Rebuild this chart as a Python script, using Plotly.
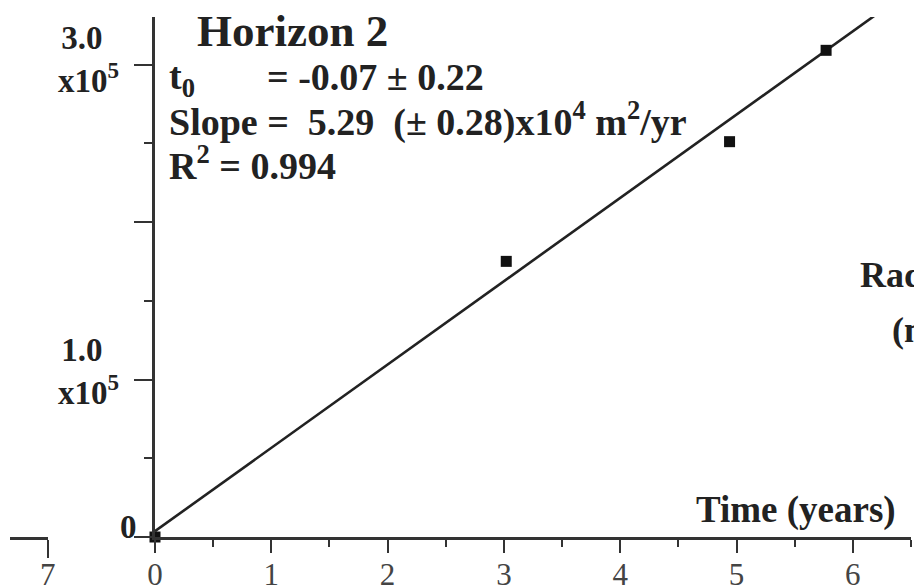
import plotly.graph_objects as go
import numpy as np

# Measured radius-squared growth of Horizon 2
time_years = [0.0, 3.02, 4.94, 5.77]
area_m2 = [0.0, 1.75e5, 2.51e5, 3.09e5]

# Linear fit parameters
fit_t0 = -0.07
fit_slope = 5.29e4
fit_t_end = 6.22

# Axis ticks
x_tick_vals = [0, 1, 2, 3, 4, 5, 6]
x_tick_text = ["0", "1", "2", "3", "4", "5", "6"]
y_tick_vals = [0, 1e5, 2e5, 3e5]
y_label_vals = [0, 1e5, 3e5]
y_label_text = ["0", "1.0&nbsp;&nbsp;<br>x10<sup>5</sup>", "3.0&nbsp;&nbsp;<br>x10<sup>5</sup>"]

W, H = 914, 587
def fx(px):
    return px / W
def fy(py):
    return 1 - py / H

SERIF = "Liberation Serif"
INK = "#222222"
AXC = "#333333"

fit_t = np.array([0.0, fit_t_end])
fit_y = fit_slope * (fit_t - fit_t0)

fig = go.Figure()
fig.add_trace(go.Scatter(
    x=fit_t, y=fit_y, mode="lines",
    line=dict(color=INK, width=2.6), showlegend=False, hoverinfo="skip"))
fig.add_trace(go.Scatter(
    x=time_years, y=area_m2, mode="markers",
    marker=dict(symbol="square", size=11, color="#111111"),
    showlegend=False, cliponaxis=False))
# fragment of the neighbouring panel's time axis
fig.add_trace(go.Scatter(x=[6.8], y=[None], xaxis="x2", yaxis="y",
                         mode="markers", showlegend=False))

fig.update_layout(
    template="none",
    width=W, height=H,
    margin=dict(l=0, r=0, t=0, b=0, autoexpand=False),
    paper_bgcolor="white", plot_bgcolor="white",
    xaxis=dict(
        domain=[155 / W, 911 / W], range=[0, 6.5], automargin=False,
        showgrid=False, zeroline=False,
        showline=True, linecolor=AXC, linewidth=2.5,
        tickmode="array", tickvals=x_tick_vals, ticktext=x_tick_text,
        ticks="outside", ticklen=13, tickwidth=2, tickcolor=AXC,
        minor=dict(tickmode="linear", tick0=0, dtick=0.5, ticks="outside",
                   ticklen=7, tickwidth=2, tickcolor=AXC, showgrid=False),
        tickfont=dict(family=SERIF, size=31, color="#444444"),
        ticklabelstandoff=-5,
    ),
    xaxis2=dict(
        domain=[10 / W, 48 / W], range=[6.6, 7.003], anchor="y", automargin=False,
        showgrid=False, zeroline=False,
        showline=True, linecolor=AXC, linewidth=2.5,
        tickmode="array", tickvals=[7], ticktext=["7"],
        ticks="outside", ticklen=18, tickwidth=2, tickcolor=AXC,
        tickfont=dict(family=SERIF, size=31, color="#444444"),
        ticklabelstandoff=-10,
    ),
    yaxis=dict(
        domain=[fy(537), fy(17)], range=[0, 520 / 157.5 * 1e5], automargin=False,
        showgrid=False, zeroline=False,
        showline=True, linecolor=AXC, linewidth=2.5,
        tickmode="array", tickvals=y_tick_vals, showticklabels=False,
        ticks="outside", ticklen=18, tickwidth=2, tickcolor=AXC,
        minor=dict(tickmode="linear", tick0=0, dtick=0.5e5, ticks="outside",
                   ticklen=8, tickwidth=2, tickcolor=AXC, showgrid=False),
    ),
)

annotations = []
# y tick labels
y_label_x = [139, 121, 121]
y_label_shift = [10, 8, 5]
for v, t, px, sh in zip(y_label_vals, y_label_text, y_label_x, y_label_shift):
    annotations.append(dict(
        x=fx(px), xref="paper", y=v, yref="y", xanchor="right", yanchor="middle",
        yshift=sh, align="right", showarrow=False,
        text="<b>" + t + "</b>", font=dict(family=SERIF, size=33, color=INK)))

# title and fit statistics
annotations += [
    dict(x=fx(195), y=fy(31), text="<b>Horizon 2</b>",
         font=dict(family=SERIF, size=45, color=INK)),
    dict(x=fx(167), y=fy(79), text="<b>t<sub>0</sub></b>",
         font=dict(family=SERIF, size=38, color=INK)),
    dict(x=fx(265), y=fy(77), text="<b>= -0.07 ± 0.22</b>",
         font=dict(family=SERIF, size=38, color=INK)),
    dict(x=fx(167), y=fy(119),
         text="<b>Slope =  5.29  (± 0.28)x10<sup>4</sup> m<sup>2</sup>/yr</b>",
         font=dict(family=SERIF, size=38, color=INK)),
    dict(x=fx(167), y=fy(163), text="<b>R<sup>2</sup> = 0.994</b>",
         font=dict(family=SERIF, size=38, color=INK)),
    dict(x=fx(694), y=fy(510), text="<b>Time (years)</b>",
         font=dict(family=SERIF, size=37, color=INK)),
    # neighbouring panel's axis title, cut by the page edge
    dict(x=fx(858), y=fy(272), text="<b>Radius<sup>2</sup></b>",
         font=dict(family=SERIF, size=36, color=INK)),
    dict(x=fx(890), y=fy(327), text="<b>(m<sup>2</sup>)</b>",
         font=dict(family=SERIF, size=36, color=INK)),
]
for a in annotations[len(y_label_vals):]:
    a.update(xref="paper", yref="paper", xanchor="left", yanchor="middle",
             showarrow=False)
fig.update_layout(annotations=annotations)

fig.write_html("out.html")
